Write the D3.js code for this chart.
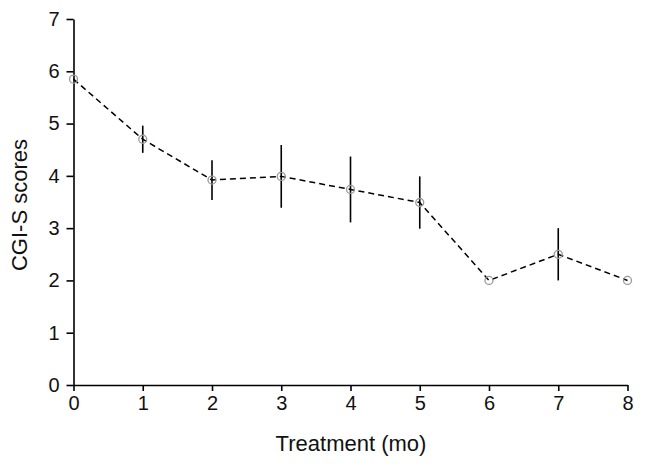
<!DOCTYPE html>
<html><head><meta charset="utf-8">
<script src="https://cdn.jsdelivr.net/npm/d3@7"></script>
<style>body{margin:0;background:#fff}svg{display:block}text{font-family:"Liberation Sans",Arial,sans-serif}</style>
</head><body>
<svg id="c" width="646" height="469"></svg>
<script>
const months = [0,1,2,3,4,5,6,7,8];
const scores = [5.85,4.70,3.92,3.99,3.74,3.49,2.00,2.50,2.00];
const errors = [0,0.26,0.38,0.60,0.63,0.50,0,0.50,0];
const xTicks = [0,1,2,3,4,5,6,7,8];
const yTicks = [0,1,2,3,4,5,6,7];

const svg = d3.select("#c");
const x = d3.scaleLinear().domain([0,8]).range([73.5,627.5]);
const y = d3.scaleLinear().domain([0,7]).range([385,19]);

const xa = svg.append("g").attr("transform","translate(0,385)")
  .call(d3.axisBottom(x).tickValues(xTicks).tickFormat(d3.format("d")).tickSize(6).tickPadding(5).tickSizeOuter(0));
const ya = svg.append("g").attr("transform","translate(73.5,0)")
  .call(d3.axisLeft(y).tickValues(yTicks).tickFormat(d3.format("d")).tickSize(7).tickPadding(7).tickSizeOuter(0));
[xa,ya].forEach(a=>{
  a.attr("font-size",null).attr("font-family",null);
  a.selectAll("path,line").attr("stroke","#000").attr("stroke-width",1.6);
  a.selectAll("text").style("font-size","20px").attr("fill","#111");
});

svg.append("path").datum(months.map((m,i)=>[x(m),y(scores[i])]))
  .attr("d",d3.line()).attr("fill","none").attr("stroke","#000")
  .attr("stroke-width",1.5).attr("stroke-dasharray","6,4");

svg.selectAll(".eb").data(months.filter((m,i)=>errors[i]>0)).enter().append("line")
  .attr("x1",m=>x(m)).attr("x2",m=>x(m))
  .attr("y1",m=>y(scores[m]+errors[m])).attr("y2",m=>y(scores[m]-errors[m]))
  .attr("stroke","#000").attr("stroke-width",1.6);

svg.selectAll(".pt").data(months).enter().append("circle")
  .attr("cx",m=>x(m)).attr("cy",m=>y(scores[m])).attr("r",4)
  .attr("fill","none").attr("stroke","#999").attr("stroke-width",1.3);

svg.append("text").attr("x",351).attr("y",451).attr("text-anchor","middle")
  .style("font-size","22px").attr("fill","#111").text("Treatment (mo)");
svg.append("text").attr("transform","translate(27,205) rotate(-90)").attr("text-anchor","middle")
  .style("font-size","22px").attr("fill","#111").text("CGI-S scores");
</script>
</body></html>
